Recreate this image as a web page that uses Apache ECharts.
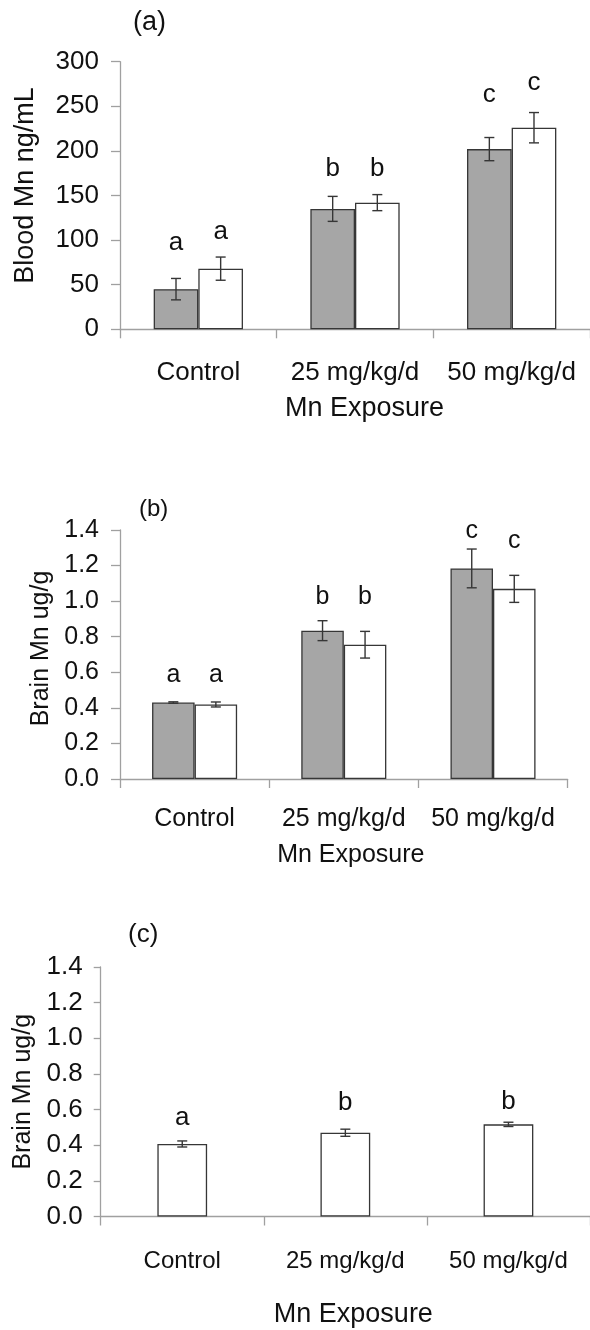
<!DOCTYPE html>
<html>
<head>
<meta charset="utf-8">
<script src="https://cdn.jsdelivr.net/npm/echarts@6/dist/echarts.min.js"></script>
<style>
  html, body { margin: 0; padding: 0; background: #fff; }
  #chart { width: 590px; height: 1330px; }
</style>
</head>
<body>
<div id="chart"></div>
<script>
// categories
var categories = ['Control', '25 mg/kg/d', '50 mg/kg/d'];

// (a) blood Mn, ng/mL
var bloodGray = [45, 135, 202];
var bloodGrayErr = [12, 14, 13];
var bloodWhite = [68, 142, 226];
var bloodWhiteErr = [13, 9, 17];
var bloodGrayLetters = ['a', 'b', 'c'];
var bloodWhiteLetters = ['a', 'b', 'c'];
var bloodGrayLetterY = [97, 180, 263];
var bloodWhiteLetterY = [109, 180, 276];

// (b) brain Mn, ug/g
var brainGray = [0.43, 0.834, 1.184];
var brainGrayErr = [0.004, 0.056, 0.109];
var brainWhite = [0.419, 0.755, 1.069];
var brainWhiteErr = [0.014, 0.075, 0.076];
var brainGrayLetters = ['a', 'b', 'c'];
var brainWhiteLetters = ['a', 'b', 'c'];
var brainGrayLetterY = [0.586, 1.024, 1.396];
var brainWhiteLetterY = [0.586, 1.024, 1.340];

// (c) brain Mn, ug/g (single group)
var brain2 = [0.407, 0.470, 0.517];
var brain2Err = [0.017, 0.02, 0.012];
var brain2Letters = ['a', 'b', 'b'];
var brain2LetterY = [0.554, 0.640, 0.644];

var FONT = 'Liberation Sans, Arial, sans-serif';
var AXIS_GRAY = '#a0a0a0';
var EDGE = '#363636';
var FILL_GRAY = '#a6a6a6';

// bar width as a fraction of the category band
var PAIR_GAP = 0.43;
var PAIR_FRAC = (1 - PAIR_GAP) / 2;
var SINGLE_FRAC = 0.305;

var chart = echarts.init(document.getElementById('chart'));

function withErr(vals, errs) {
    return vals.map(function (v, i) { return [i, v, errs[i]]; });
}
function withY(ys) {
    return ys.map(function (y, i) { return [i, y]; });
}

function errRender(sign, frac) {
    return function (params, api) {
        var cat = api.value(0), v = api.value(1), e = api.value(2);
        var band = api.size([1, 0])[0];
        var off = sign * band * frac / 2;
        var top = api.coord([cat, v + e]);
        var bot = api.coord([cat, v - e]);
        var x = top[0] + off;
        var cap = 5;
        var st = { stroke: EDGE, lineWidth: 1.4 };
        return {
            type: 'group',
            children: [
                { type: 'line', shape: { x1: x, y1: top[1], x2: x, y2: bot[1] }, style: st },
                { type: 'line', shape: { x1: x - cap, y1: top[1], x2: x + cap, y2: top[1] }, style: st },
                { type: 'line', shape: { x1: x - cap, y1: bot[1], x2: x + cap, y2: bot[1] }, style: st }
            ]
        };
    };
}

function letterRender(sign, frac, letters, size) {
    return function (params, api) {
        var cat = api.value(0), y = api.value(1);
        var band = api.size([1, 0])[0];
        var p = api.coord([cat, y]);
        return {
            type: 'text',
            x: p[0] + sign * band * frac / 2,
            y: p[1],
            style: {
                text: letters[params.dataIndex],
                fontSize: size,
                fontFamily: FONT,
                fill: '#111',
                align: 'center',
                verticalAlign: 'middle'
            }
        };
    };
}

function makeX(idx, size, margin, nameGap, namePad, nameSize) {
    return {
        type: 'category',
        gridIndex: idx,
        data: categories,
        axisLine: { lineStyle: { color: AXIS_GRAY, width: 1.3 } },
        axisTick: { show: true, length: 9, interval: 0, lineStyle: { color: AXIS_GRAY, width: 1.3 } },
        axisLabel: { color: '#111', fontSize: size, fontFamily: FONT, margin: margin, interval: 0 },
        splitLine: { show: false },
        name: 'Mn Exposure',
        nameLocation: 'middle',
        nameGap: nameGap,
        nameTextStyle: { color: '#111', fontSize: nameSize, fontFamily: FONT, padding: [0, 0, 0, namePad] }
    };
}

function makeY(idx, name, max, interval, decimals, size, margin, tickLen, nameGap, nameSize, namePad) {
    return {
        type: 'value',
        gridIndex: idx,
        min: 0,
        max: max,
        interval: interval,
        axisLine: { show: true, lineStyle: { color: AXIS_GRAY, width: 1.3 } },
        axisTick: { show: true, length: tickLen, lineStyle: { color: AXIS_GRAY, width: 1.3 } },
        axisLabel: {
            color: '#111', fontSize: size, fontFamily: FONT, margin: margin,
            formatter: function (v) { return v.toFixed(decimals); }
        },
        splitLine: { show: false },
        name: name,
        nameLocation: 'middle',
        nameGap: nameGap,
        nameTextStyle: { color: '#111', fontSize: nameSize, fontFamily: FONT, padding: [0, 0, 0, namePad] }
    };
}

function barSeries(idx, data, fill, extra) {
    var s = {
        type: 'bar',
        xAxisIndex: idx,
        yAxisIndex: idx,
        data: data,
        barGap: '0%',
        barCategoryGap: (PAIR_GAP * 100) + '%',
        itemStyle: { color: fill, borderColor: EDGE, borderWidth: 1.3 },
        silent: true
    };
    for (var k in extra) s[k] = extra[k];
    return s;
}

function customSeries(idx, data, render) {
    return {
        type: 'custom',
        xAxisIndex: idx,
        yAxisIndex: idx,
        data: data,
        renderItem: render,
        z: 5,
        silent: true
    };
}

var option = {
    animation: false,
    grid: [
        { left: 120, top: 61.7, width: 481, height: 267.6 },
        { left: 120, top: 530, width: 447.6, height: 249 },
        { left: 100.7, top: 967, width: 502.5, height: 249.5 }
    ],
    xAxis: [
        makeX(0, 26, 31, 66, 19, 27),
        makeX(1, 25, 28, 64, 14, 25),
        makeX(2, 24, 33, 85, 16, 27)
    ],
    yAxis: [
        makeY(0, 'Blood Mn ng/mL', 300, 50, 0, 26, 21, 9, 81, 27, 20),
        makeY(1, 'Brain Mn ug/g', 1.4, 0.2, 1, 25, 21, 9, 66, 25, 12),
        makeY(2, 'Brain Mn ug/g', 1.4, 0.2, 1, 26, 18, 7, 61, 25, 0)
    ],
    graphic: [
        { type: 'text', left: 133, top: 9, style: { text: '(a)', fontSize: 27, fontFamily: FONT, fill: '#111' } },
        { type: 'text', left: 139, top: 497, style: { text: '(b)', fontSize: 24, fontFamily: FONT, fill: '#111' } },
        { type: 'text', left: 128, top: 922, style: { text: '(c)', fontSize: 26, fontFamily: FONT, fill: '#111' } }
    ],
    series: [
        barSeries(0, bloodGray, FILL_GRAY, {}),
        barSeries(0, bloodWhite, '#fff', {}),
        customSeries(0, withErr(bloodGray, bloodGrayErr), errRender(-1, PAIR_FRAC)),
        customSeries(0, withErr(bloodWhite, bloodWhiteErr), errRender(1, PAIR_FRAC)),
        customSeries(0, withY(bloodGrayLetterY), letterRender(-1, PAIR_FRAC, bloodGrayLetters, 26)),
        customSeries(0, withY(bloodWhiteLetterY), letterRender(1, PAIR_FRAC, bloodWhiteLetters, 26)),

        barSeries(1, brainGray, FILL_GRAY, {}),
        barSeries(1, brainWhite, '#fff', {}),
        customSeries(1, withErr(brainGray, brainGrayErr), errRender(-1, PAIR_FRAC)),
        customSeries(1, withErr(brainWhite, brainWhiteErr), errRender(1, PAIR_FRAC)),
        customSeries(1, withY(brainGrayLetterY), letterRender(-1, PAIR_FRAC, brainGrayLetters, 25)),
        customSeries(1, withY(brainWhiteLetterY), letterRender(1, PAIR_FRAC, brainWhiteLetters, 25)),

        barSeries(2, brain2, '#fff', { barWidth: (SINGLE_FRAC * 100) + '%', barCategoryGap: null }),
        customSeries(2, withErr(brain2, brain2Err), errRender(0, SINGLE_FRAC)),
        customSeries(2, withY(brain2LetterY), letterRender(0, SINGLE_FRAC, brain2Letters, 26))
    ]
};

chart.setOption(option);
</script>
</body>
</html>
